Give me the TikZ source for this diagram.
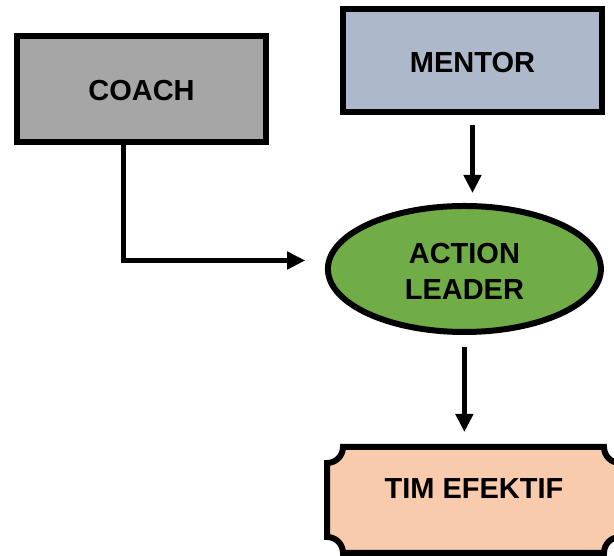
\documentclass[tikz,border=0pt]{standalone}
\usepackage{fontspec}
\setmainfont{Liberation Sans}
\usetikzlibrary{shapes.geometric,arrows.meta}
\definecolor{coachgray}{HTML}{A6A6A6}
\definecolor{mentorblue}{HTML}{ADB9CA}
\definecolor{leadgreen}{HTML}{70AD47}
\definecolor{timpeach}{HTML}{F8CBAD}
\tikzset{
  boxstyle/.style={draw=black, line width=6pt, inner sep=0pt, align=center,
    font=\bfseries\fontsize{29pt}{36pt}\selectfont},
  conn/.style={line width=5.5pt, draw=black, -{Triangle[width=17pt,length=18pt]}},
  lbl/.style={inner sep=0pt, align=center, font=\bfseries\fontsize{29pt}{36pt}\selectfont}
}
\begin{document}
\begin{tikzpicture}[x=1pt,y=1pt]
\useasboundingbox (0,0) rectangle (614,556);
\node[boxstyle, fill=coachgray, minimum width=249pt, minimum height=106pt] (coach) at (141.5,467) {};
\node[lbl] (coachlabel) at (141.5,465) {COACH};
\node[boxstyle, fill=mentorblue, minimum width=259pt, minimum height=103pt] (mentor) at (472.5,495.5) {};
\node[lbl] (mentorlabel) at (472.5,493) {MENTOR};
\node[boxstyle, ellipse, fill=leadgreen, minimum width=273pt, minimum height=126pt] (al) at (464.4,287) {};
\node[lbl] (allabel) at (464.4,285) {ACTION\\LEADER};
\node[inner sep=0pt, outer sep=0pt, minimum width=293pt, minimum height=106pt] (tim) at (473.5,56) {};
\draw[line width=6pt, fill=timpeach]
  ([yshift=-16pt]tim.north west) arc[start angle=-90, end angle=0, radius=16pt]
  -- ([xshift=-16pt]tim.north east) arc[start angle=180, end angle=270, radius=16pt]
  -- ([yshift=16pt]tim.south east) arc[start angle=90, end angle=180, radius=16pt]
  -- ([xshift=16pt]tim.south west) arc[start angle=0, end angle=90, radius=16pt]
  -- cycle;
\node[lbl] (timlabel) at (474,67) {TIM EFEKTIF};
\draw[conn] ([xshift=-18pt]coach.south) |- ([xshift=-19.7pt,yshift=8.5pt]al.west);
\draw[conn] ([yshift=-10pt]mentor.south) -- ([yshift=10pt]mentor.south |- al.north);
\draw[conn] ([yshift=-12pt]al.south) -- ([yshift=15pt]al.south |- tim.north);
\end{tikzpicture}
\end{document}
